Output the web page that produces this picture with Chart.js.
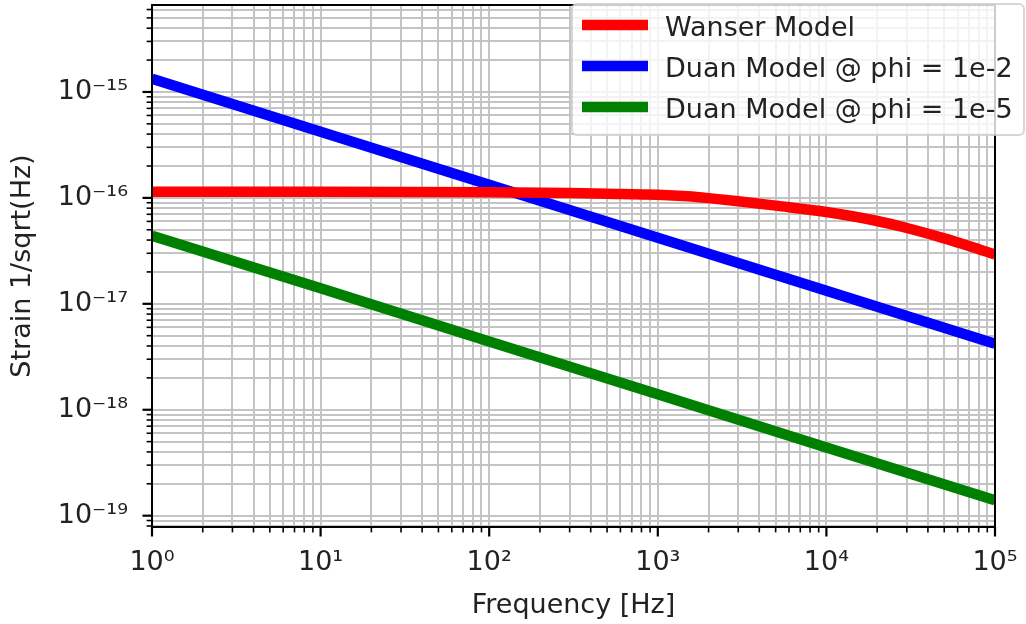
<!DOCTYPE html>
<html>
<head>
<meta charset="utf-8">
<script src="https://cdn.jsdelivr.net/npm/chart.js@4.4.0/dist/chart.umd.min.js"></script>
<style>
  html, body { margin: 0; padding: 0; background: #fff; }
  #chart { display: block; }
</style>
</head>
<body>
<canvas id="chart" width="1026" height="624"></canvas>
<script>
// frequency in Hz, strain in 1/sqrt(Hz)
const wanserFreq = [1, 10, 100, 300, 500, 1000, 1500, 2000, 3000, 5000, 10000, 20000, 30000, 50000, 70000, 100000];
const wanserStrain = [1.14e-16, 1.14e-16, 1.13e-16, 1.11e-16, 1.095e-16, 1.07e-16, 1.035e-16, 9.95e-17, 9.3e-17, 8.45e-17, 7.35e-17, 6.05e-17, 5.2e-17, 4.15e-17, 3.52e-17, 2.92e-17];
const duanFreq = [1, 10, 100, 1000, 10000, 100000];
const duanPhi2 = [1.33e-15, 4.2e-16, 1.33e-16, 4.2e-17, 1.33e-17, 4.2e-18];
const duanPhi5 = [4.4e-17, 1.4e-17, 4.4e-18, 1.4e-18, 4.4e-19, 1.4e-19];
const seriesLabels = ['Wanser Model', 'Duan Model @ phi = 1e-2', 'Duan Model @ phi = 1e-5'];
const seriesColors = ['#ff0000', '#0000ff', '#008000'];

const xDecades = [1, 10, 100, 1000, 10000, 100000];
const xTickLabels = ['10⁰', '10¹', '10²', '10³', '10⁴', '10⁵'];
const yDecades = [1e-20, 1e-19, 1e-18, 1e-17, 1e-16, 1e-15];
const yTickLabels = ['10⁻²⁰', '10⁻¹⁹', '10⁻¹⁸', '10⁻¹⁷', '10⁻¹⁶', '10⁻¹⁵'];
const minorSteps = [1, 2, 3, 4, 5, 6, 7, 8, 9];

const xMin = 1, xMax = 1e5;
const yMin = 7.82e-20, yMax = 6.62e-15;

const FONT = 'DejaVu Sans';
const TEXT = '#222';

function points(xs, ys) {
    return xs.map((x, i) => ({ x: x, y: ys[i] }));
}

function logTicks(decades, min, max) {
    let ticks = [];
    decades.forEach(d => minorSteps.forEach(s => {
        let v = s * d;
        if (v >= min * 0.999 && v <= max * 1.001) ticks.push({ value: v });
    }));
    return ticks;
}

function decadeLabel(decades, labels) {
    return function (value) {
        let i = decades.findIndex(d => Math.abs(value / d - 1) < 1e-6);
        return i >= 0 ? labels[i] : '';
    };
}

// ticks, spines on top/right, legend box like matplotlib
const frame = {
    id: 'frame',
    afterDatasetsDraw(chart) {
        const { ctx, chartArea: a, scales } = chart;
        ctx.save();
        ctx.strokeStyle = '#000';
        scales.x.ticks.forEach(t => {
            let px = scales.x.getPixelForValue(t.value);
            let major = t.label !== '';
            ctx.lineWidth = major ? 2.2 : 1.6;
            ctx.beginPath();
            ctx.moveTo(px, a.bottom);
            ctx.lineTo(px, a.bottom + (major ? 9.5 : 5.4));
            ctx.stroke();
        });
        scales.y.ticks.forEach(t => {
            let py = scales.y.getPixelForValue(t.value);
            let major = t.label !== '';
            ctx.lineWidth = major ? 2.2 : 1.6;
            ctx.beginPath();
            ctx.moveTo(a.left, py);
            ctx.lineTo(a.left - (major ? 9.5 : 5.4), py);
            ctx.stroke();
        });
        ctx.lineWidth = 2;
        ctx.strokeRect(a.left, a.top, a.right - a.left, a.bottom - a.top);
        ctx.restore();
    },
    afterDraw(chart) {
        const ctx = chart.ctx;
        let x0 = 572, y0 = 4, w = 452, h = 131;
        ctx.save();
        ctx.fillStyle = 'rgba(255,255,255,0.8)';
        ctx.strokeStyle = 'rgba(204,204,204,0.8)';
        ctx.lineWidth = 2;
        ctx.beginPath();
        ctx.roundRect(x0, y0, w, h, 5);
        ctx.fill();
        ctx.stroke();
        ctx.font = '27px "' + FONT + '"';
        ctx.textBaseline = 'alphabetic';
        chart.data.datasets.forEach((ds, i) => {
            let cy = 25 + i * 41;
            ctx.strokeStyle = ds.borderColor;
            ctx.lineWidth = 10.5;
            ctx.beginPath();
            ctx.moveTo(582, cy);
            ctx.lineTo(648, cy);
            ctx.stroke();
            ctx.fillStyle = TEXT;
            ctx.fillText(ds.label, 665, cy + 11);
        });
        ctx.restore();
    }
};

const ctx = document.getElementById('chart').getContext('2d');

const myChart = new Chart(ctx, {
    type: 'line',
    data: {
        datasets: [
            {
                label: seriesLabels[0],
                data: points(wanserFreq, wanserStrain),
                borderColor: seriesColors[0],
                cubicInterpolationMode: 'monotone'
            },
            {
                label: seriesLabels[1],
                data: points(duanFreq, duanPhi2),
                borderColor: seriesColors[1]
            },
            {
                label: seriesLabels[2],
                data: points(duanFreq, duanPhi5),
                borderColor: seriesColors[2]
            }
        ]
    },
    options: {
        responsive: false,
        animation: false,
        clip: 0,
        datasets: {
            line: { borderWidth: 10.5, pointRadius: 0, fill: false, tension: 0 }
        },
        layout: { padding: { top: 5, right: 31, left: 0, bottom: 0 } },
        plugins: {
            legend: { display: false },
            tooltip: { enabled: false }
        },
        scales: {
            x: {
                type: 'logarithmic',
                min: xMin,
                max: xMax,
                afterBuildTicks: axis => { axis.ticks = logTicks(xDecades, xMin, xMax); },
                afterFit: axis => { axis.height = 97; axis.paddingLeft = 0; axis.paddingRight = 0; },
                ticks: {
                    callback: decadeLabel(xDecades, xTickLabels),
                    autoSkip: false,
                    maxRotation: 0,
                    padding: 20,
                    color: TEXT,
                    font: { family: FONT, size: 27 }
                },
                grid: { color: '#c4c4c4', lineWidth: 2, drawTicks: false },
                border: { color: '#000', width: 2 },
                title: {
                    display: true,
                    text: 'Frequency [Hz]',
                    color: TEXT,
                    font: { family: FONT, size: 27 },
                    padding: { top: 0, bottom: 2 }
                }
            },
            y: {
                type: 'logarithmic',
                min: yMin,
                max: yMax,
                afterBuildTicks: axis => { axis.ticks = logTicks(yDecades, yMin, yMax); },
                afterFit: axis => { axis.width = 152; axis.paddingTop = 0; axis.paddingBottom = 0; },
                ticks: {
                    callback: decadeLabel(yDecades, yTickLabels),
                    autoSkip: false,
                    padding: 24,
                    color: TEXT,
                    font: { family: FONT, size: 27 }
                },
                grid: { color: '#c4c4c4', lineWidth: 2, drawTicks: false },
                border: { color: '#000', width: 2 },
                title: {
                    display: true,
                    text: 'Strain 1/sqrt(Hz)',
                    color: TEXT,
                    font: { family: FONT, size: 27 },
                    padding: { top: 7, bottom: 0 }
                }
            }
        }
    },
    plugins: [frame]
});
</script>
</body>
</html>
